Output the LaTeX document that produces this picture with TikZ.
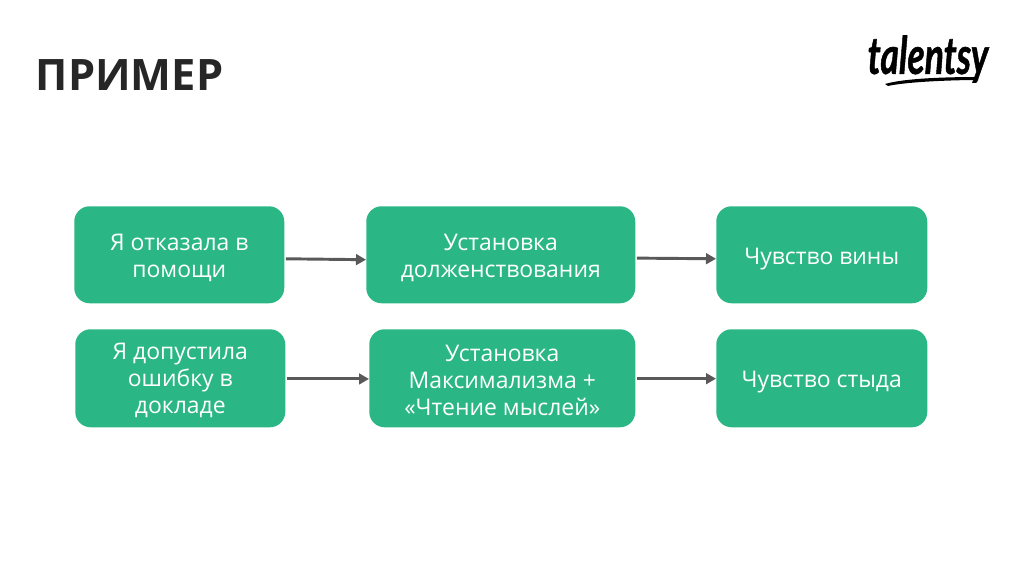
\documentclass[tikz,border=0pt]{standalone}
\usepackage{graphicx}
\usepackage{fontspec}
\setmainfont{Open Sans}
\newfontfamily\logofont[FakeBold=1.2]{Lato}
\usetikzlibrary{arrows.meta}
\definecolor{boxgreen}{HTML}{2AB785}
\definecolor{arrowgrey}{HTML}{595959}
\definecolor{titleink}{HTML}{262626}
\tikzset{
  flowbox/.style={fill=boxgreen,draw=none,rounded corners=11.5pt,inner sep=0pt,anchor=north west},
  flowtext/.style={inner sep=0pt,text=white,align=center,font=\fontsize{17.2}{20.2}\selectfont},
  flowarrow/.style={draw=arrowgrey,line width=2.2pt,-{Triangle[length=7.5pt,width=8pt]},shorten <=1pt,shorten >=0pt}
}
\begin{document}
\begin{tikzpicture}[x=0.75pt,y=-0.75pt]
\useasboundingbox (0,0) rectangle (1024,576);
\fill[white] (0,0) rectangle (1024,576);
\node[anchor=west,inner sep=0pt,text=titleink,font=\fontsize{32.5}{38}\selectfont\bfseries] (title) at (35.5,75) {ПРИМЕР};

\node[flowbox,minimum width=157.5pt,minimum height=72.75pt] (a1) at (74,206) {};
\node[flowbox,minimum width=201.75pt,minimum height=72.75pt] (b1) at (366,206) {};
\node[flowbox,minimum width=158.25pt,minimum height=72.75pt] (c1) at (716,206) {};
\node[flowbox,minimum width=157.5pt,minimum height=73.5pt] (a2) at (75,329) {};
\node[flowbox,minimum width=199.5pt,minimum height=73.5pt] (b2) at (369,329) {};
\node[flowbox,minimum width=158.25pt,minimum height=73.5pt] (c2) at (716,329) {};

\node[flowtext] (a1t) at ([yshift=-2.5pt]a1.center) {Я отказала в\\помощи};
\node[flowtext] (b1t) at ([yshift=-2.5pt]b1.center) {Установка\\долженствования};
\node[flowtext] (c1t) at ([yshift=-3pt]c1.center) {Чувство вины};
\node[flowtext] (a2t) at ([yshift=-1.5pt]a2.center) {Я допустила\\ошибку в\\докладе};
\node[flowtext] (b2t) at ([yshift=-1.5pt]b2.center) {Установка\\Максимализма +\\«Чтение мыслей»};
\node[flowtext] (c2t) at ([yshift=-3pt]c2.center) {Чувство стыда};

\draw[flowarrow] ([yshift=-3pt]a1.east) -- ([yshift=-3.7pt]b1.west);
\draw[flowarrow] ([yshift=-2.5pt]b1.east) -- ([yshift=-3pt]c1.west);
\draw[flowarrow] ([yshift=-0.5pt]a2.east) -- ([yshift=-0.5pt]b2.west);
\draw[flowarrow] ([yshift=-0.3pt]b2.east) -- ([yshift=-0.3pt]c2.west);

\node[inner sep=0pt,text=black,font=\logofont\bfseries\itshape\fontsize{31}{31}\selectfont,anchor=center] (logo) at (928,59) {\scalebox{0.86}[1.25]{talentsy}};
\fill[black] (885,84) .. controls (905,78) and (950,77) .. (978,77) -- (978,80) .. controls (950,80) and (905,82) .. (888,86) -- cycle;
\end{tikzpicture}
\end{document}
